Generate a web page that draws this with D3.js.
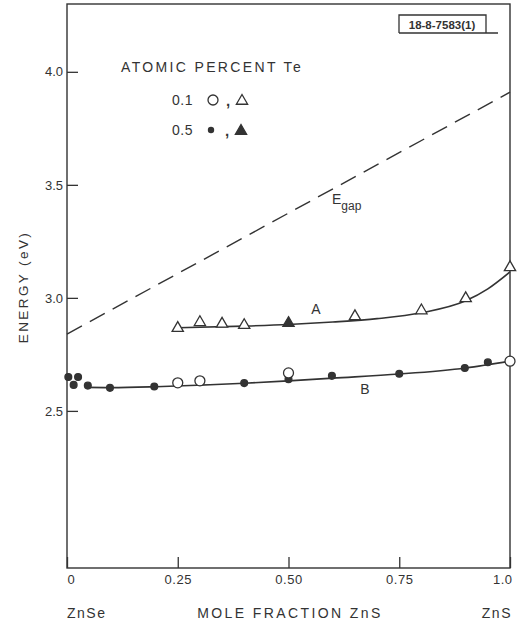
<!DOCTYPE html>
<html><head><meta charset="utf-8">
<script src="https://cdn.jsdelivr.net/npm/d3@7/dist/d3.min.js"></script>
<style>
body{margin:0;background:#fff;}
svg{display:block;}
text{font-family:"Liberation Sans",Arial,sans-serif;fill:#333;}
</style></head>
<body>
<svg id="c" width="517" height="626"></svg>
<script>
// ---- data ----
const xTickValues = [0, 0.25, 0.5, 0.75, 1.0];
const xTickLabels = ["0", "0.25", "0.50", "0.75", "1.0"];
const yTickValues = [2.5, 3.0, 3.5, 4.0];
const yTickLabels = ["2.5", "3.0", "3.5", "4.0"];

// E_gap (dashed straight line)
const gapX = [0, 1.0];
const gapY = [2.84, 3.91];

// Curve A : triangles
const aOpenX = [0.25, 0.30, 0.35, 0.40, 0.65, 0.80, 0.90, 1.00];
const aOpenY = [2.866, 2.892, 2.885, 2.879, 2.918, 2.944, 2.998, 3.135];
const aFillX = [0.50];
const aFillY = [2.888];
const aFitX = [0.25, 0.40, 0.50, 0.60, 0.70, 0.80, 0.90, 0.95, 1.00];
const aFitY = [2.868, 2.875, 2.882, 2.893, 2.908, 2.934, 2.987, 3.040, 3.115];

// Curve B : circles
const bOpenX = [0.25, 0.30, 0.50, 1.00];
const bOpenY = [2.624, 2.633, 2.668, 2.720];
const bFillX = [0.003, 0.025, 0.015, 0.047, 0.097, 0.197, 0.40, 0.50, 0.598, 0.75, 0.898, 0.95];
const bFillY = [2.650, 2.650, 2.615, 2.612, 2.602, 2.608, 2.623, 2.640, 2.655, 2.664, 2.690, 2.715];
const bFitX = [0.045, 0.10, 0.20, 0.30, 0.40, 0.50, 0.60, 0.75, 0.90, 1.00];
const bFitY = [2.604, 2.603, 2.607, 2.614, 2.622, 2.633, 2.645, 2.663, 2.690, 2.720];

// ---- drawing ----
const svg = d3.select("#c");
const X0 = 67, X1 = 510, Y0 = 568, Y1 = 4;
const x = d3.scaleLinear().domain([0, 1]).range([X0, X1]);
const y = d3.scaleLinear().domain([1.805, 4.30]).range([Y0, Y1]);
const ink = "#333";

// frame
svg.append("rect").attr("x", X0).attr("y", Y1).attr("width", X1 - X0).attr("height", Y0 - Y1)
  .attr("fill", "none").attr("stroke", ink).attr("stroke-width", 1.4);

// y axis
const yAxis = d3.axisLeft(y).tickValues(yTickValues)
  .tickFormat((d, i) => yTickLabels[i]).tickSize(-11).tickPadding(4);
const gy = svg.append("g").attr("transform", `translate(${X0},0)`).call(yAxis);
gy.select(".domain").remove();
gy.selectAll("line").attr("stroke", ink).attr("stroke-width", 1.3);
gy.selectAll("text").attr("font-size", 13).style("fill", ink);

// x axis
const xAxis = d3.axisBottom(x).tickValues(xTickValues)
  .tickFormat((d, i) => xTickLabels[i]).tickSize(-11).tickPadding(7);
const gx = svg.append("g").attr("transform", `translate(0,${Y0})`).call(xAxis);
gx.select(".domain").remove();
gx.selectAll("line").attr("stroke", ink).attr("stroke-width", 1.3);
gx.selectAll("text").attr("font-size", 13).style("fill", ink).attr("letter-spacing", 0.5)
  .attr("text-anchor", (d, i) => i === 0 ? "start" : (i === xTickValues.length - 1 ? "end" : "middle"))
  .attr("x", (d, i) => i === xTickValues.length - 1 ? 2 : 0);

// axis titles
svg.append("text").attr("x", 67).attr("y", 618).attr("font-size", 14).attr("letter-spacing", 1.5).text("ZnSe");
svg.append("text").attr("x", 290).attr("y", 618).attr("font-size", 14).attr("letter-spacing", 2.4)
  .attr("text-anchor", "middle").text("MOLE FRACTION ZnS");
svg.append("text").attr("x", 512).attr("y", 618).attr("font-size", 14).attr("letter-spacing", 1.5)
  .attr("text-anchor", "end").text("ZnS");
svg.append("text").attr("transform", "translate(28,287) rotate(-90)").attr("font-size", 13.5)
  .attr("letter-spacing", 2.4).attr("text-anchor", "middle").text("ENERGY (eV)");

// E_gap dashed line
svg.append("line").attr("x1", x(gapX[0])).attr("y1", y(gapY[0])).attr("x2", x(gapX[1])).attr("y2", y(gapY[1]))
  .attr("stroke", ink).attr("stroke-width", 1.4).attr("stroke-dasharray", "17,9");
const eg = svg.append("text").attr("x", 332).attr("y", 204).attr("font-size", 14);
eg.append("tspan").text("E");
eg.append("tspan").attr("dy", 6).attr("font-size", 12).text("gap");

// fitted curves
const line = d3.line().x(d => x(d[0])).y(d => y(d[1])).curve(d3.curveMonotoneX);
svg.append("path").attr("d", line(aFitX.map((v, i) => [v, aFitY[i]])))
  .attr("fill", "none").attr("stroke", ink).attr("stroke-width", 1.6);
svg.append("path").attr("d", line(bFitX.map((v, i) => [v, bFitY[i]])))
  .attr("fill", "none").attr("stroke", ink).attr("stroke-width", 1.6);

// markers
const tri = d3.symbol().type(d3.symbolTriangle).size(55);
function triangles(xs, ys, filled) {
  svg.append("g").selectAll("path").data(xs.map((v, i) => [v, ys[i]])).join("path")
    .attr("d", tri).attr("transform", d => `translate(${x(d[0])},${y(d[1])})`)
    .attr("fill", filled ? ink : "#fff").attr("stroke", ink).attr("stroke-width", 1.3);
}
function circles(xs, ys, filled) {
  svg.append("g").selectAll("circle").data(xs.map((v, i) => [v, ys[i]])).join("circle")
    .attr("cx", d => x(d[0])).attr("cy", d => y(d[1])).attr("r", filled ? 3.4 : 5)
    .attr("fill", filled ? ink : "#fff").attr("stroke", ink).attr("stroke-width", 1.3);
}
triangles(aOpenX, aOpenY, false);
triangles(aFillX, aFillY, true);
circles(bFillX, bFillY, true);
circles(bOpenX, bOpenY, false);

// curve labels
svg.append("text").attr("x", 316).attr("y", 314).attr("font-size", 14).attr("text-anchor", "middle").text("A");
svg.append("text").attr("x", 365).attr("y", 394).attr("font-size", 14).attr("text-anchor", "middle").text("B");

// legend
svg.append("text").attr("x", 121).attr("y", 72).attr("font-size", 14).attr("letter-spacing", 2.35).text("ATOMIC PERCENT Te");
svg.append("text").attr("x", 172).attr("y", 105).attr("font-size", 14).attr("letter-spacing", 0.5).text("0.1");
svg.append("text").attr("x", 172).attr("y", 135).attr("font-size", 14).attr("letter-spacing", 0.5).text("0.5");
svg.append("circle").attr("cx", 213).attr("cy", 100).attr("r", 5).attr("fill", "#fff").attr("stroke", ink).attr("stroke-width", 1.3);
svg.append("text").attr("x", 226).attr("y", 106).attr("font-size", 15).attr("font-weight", "bold").style("fill", ink).text(",");
svg.append("path").attr("d", tri).attr("transform", "translate(242,101)").attr("fill", "#fff").attr("stroke", ink).attr("stroke-width", 1.3);
svg.append("circle").attr("cx", 211).attr("cy", 130).attr("r", 3.2).attr("fill", ink);
svg.append("text").attr("x", 225).attr("y", 136).attr("font-size", 15).attr("font-weight", "bold").style("fill", ink).text(",");
svg.append("path").attr("d", tri).attr("transform", "translate(241,131)").attr("fill", ink).attr("stroke", ink).attr("stroke-width", 1.3);

// id box
svg.append("path").attr("d", "M399,33 L399,15 L486,15 L486,33 M399,33 L498,33")
  .attr("fill", "none").attr("stroke", ink).attr("stroke-width", 1.3);
svg.append("text").attr("x", 442).attr("y", 29).attr("font-size", 11.5).attr("text-anchor", "middle")
  .attr("font-weight", "bold").text("18-8-7583(1)");
</script>
</body></html>
